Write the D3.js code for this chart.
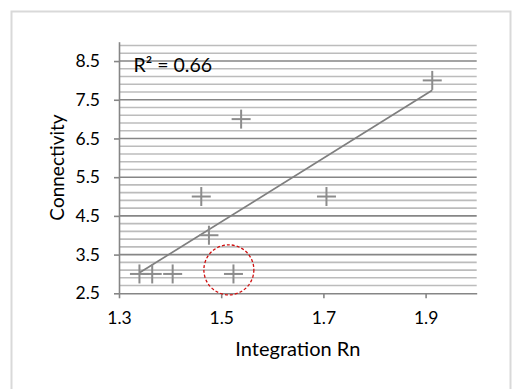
<!DOCTYPE html>
<html>
<head>
<meta charset="utf-8">
<script src="https://cdn.jsdelivr.net/npm/d3@7"></script>
<style>
  html, body { margin: 0; padding: 0; background: #fff; }
  svg { display: block; }
  text { font-family: Lato, "Open Sans", sans-serif; fill: #000; }
</style>
</head>
<body>
<svg id="chart" width="526" height="389"></svg>
<script>
// Scatter of street segments: integration (Rn) against connectivity
const integrationRn = [1.34, 1.365, 1.405, 1.524, 1.476, 1.461, 1.706, 1.539, 1.913];
const connectivity  = [3, 3, 3, 3, 4, 5, 5, 7, 8];

const xTickValues = [1.3, 1.5, 1.7, 1.9];
const yTickValues = [2.5, 3.5, 4.5, 5.5, 6.5, 7.5, 8.5];
const yMinorValues = d3.range(2.7, 9.0, 0.2).map(v => +v.toFixed(1)).filter(v => !yTickValues.includes(v));

const xDomain = [1.3, 2.0];
const yDomain = [2.5, 9.0];

const rSquaredLabel = "R² = 0.66";
const xTitle = "Integration Rn";
const yTitle = "Connectivity";

// highlighted point (circled)
const highlight = { x: 1.515, y: 3.106 };

const svg = d3.select("#chart");
const W = 526, H = 389;
const plot = { left: 119, right: 476.7, top: 41.7, bottom: 293.3 };

const x = d3.scaleLinear().domain(xDomain).range([plot.left, plot.right]);
const y = d3.scaleLinear().domain(yDomain).range([plot.bottom, plot.top]);

svg.append("rect").attr("width", W).attr("height", H).attr("fill", "#fff");

// chart area border
svg.append("rect")
  .attr("x", 11.5).attr("y", 11.5)
  .attr("width", 499).attr("height", 420)
  .attr("fill", "none")
  .attr("stroke", "#d9d9d9").attr("stroke-width", 2);

// minor gridlines
svg.append("g").selectAll("line").data(yMinorValues).join("line")
  .attr("x1", plot.left).attr("x2", plot.right)
  .attr("y1", d => y(d)).attr("y2", d => y(d))
  .attr("stroke", "#bcbcbc").attr("stroke-width", 1.6);

// major gridlines
svg.append("g").selectAll("line").data(yTickValues.slice(1)).join("line")
  .attr("x1", plot.left).attr("x2", plot.right)
  .attr("y1", d => y(d)).attr("y2", d => y(d))
  .attr("stroke", "#868686").attr("stroke-width", 1.6);

// axes
const xAxis = svg.append("g")
  .attr("transform", `translate(0,${plot.bottom})`)
  .call(d3.axisBottom(x).tickValues(xTickValues).tickSize(5).tickSizeOuter(0).tickFormat(d3.format(".1f")));
const yAxis = svg.append("g")
  .attr("transform", `translate(${plot.left},0)`)
  .call(d3.axisLeft(y).tickValues(yTickValues).tickSize(5).tickSizeOuter(0).tickFormat(d3.format(".1f")));

[xAxis, yAxis].forEach(g => {
  g.select(".domain").attr("stroke", "#868686").attr("stroke-width", 1.6);
  g.selectAll(".tick line").attr("stroke", "#868686").attr("stroke-width", 1.6);
  g.selectAll(".tick text")
    .attr("fill", "#000")
    .style("font-family", "Lato, 'Open Sans', sans-serif")
    .style("font-size", "17.5px");
});
xAxis.selectAll(".tick text").attr("y", 18).attr("dy", "0.71em");
yAxis.selectAll(".tick text").attr("x", -19);

// least-squares trendline
const n = integrationRn.length;
const mx = d3.mean(integrationRn), my = d3.mean(connectivity);
let sxy = 0, sxx = 0;
for (let i = 0; i < n; i++) {
  sxy += (integrationRn[i] - mx) * (connectivity[i] - my);
  sxx += (integrationRn[i] - mx) ** 2;
}
const slope = sxy / sxx, intercept = my - slope * mx;
const [x0, x1] = d3.extent(integrationRn);
svg.append("line")
  .attr("x1", x(x0)).attr("y1", y(intercept + slope * x0))
  .attr("x2", x(x1)).attr("y2", y(intercept + slope * x1))
  .attr("stroke", "#7f7f7f").attr("stroke-width", 1.7);

// plus markers
const pts = integrationRn.map((v, i) => ({ x: v, y: connectivity[i] }));
const arm = 9.5;
const marks = svg.append("g").attr("stroke", "#8c8c8c").attr("stroke-width", 2);
marks.selectAll(".h").data(pts).join("line")
  .attr("x1", d => x(d.x) - arm).attr("x2", d => x(d.x) + arm)
  .attr("y1", d => y(d.y)).attr("y2", d => y(d.y));
marks.selectAll(".v").data(pts).join("line")
  .attr("x1", d => x(d.x)).attr("x2", d => x(d.x))
  .attr("y1", d => y(d.y) - arm).attr("y2", d => y(d.y) + arm);

// dashed circle around the highlighted point
svg.append("circle")
  .attr("cx", x(highlight.x)).attr("cy", y(highlight.y)).attr("r", 25)
  .attr("fill", "none").attr("stroke", "#d01010")
  .attr("stroke-width", 1.3).attr("stroke-dasharray", "3,2");

// R² label
svg.append("text")
  .attr("x", 133.5).attr("y", 72)
  .style("font-size", "19.5px")
  .text(rSquaredLabel);

// axis titles
svg.append("text")
  .attr("x", (plot.left + plot.right) / 2).attr("y", 356)
  .attr("text-anchor", "middle")
  .style("font-size", "20px")
  .text(xTitle);

svg.append("text")
  .attr("transform", `translate(64,${(plot.top + plot.bottom) / 2}) rotate(-90)`)
  .attr("text-anchor", "middle")
  .style("font-size", "19px")
  .text(yTitle);
</script>
</body>
</html>
